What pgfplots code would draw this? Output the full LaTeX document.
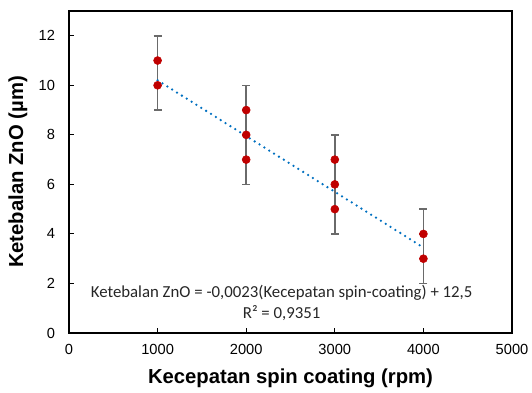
\documentclass[border=0pt]{standalone}
\usepackage{fontspec}
\setmainfont{Liberation Sans}
\newfontfamily\calibri{Carlito}
\usepackage{pgfplots}
\pgfplotsset{compat=1.18}
\definecolor{mred}{HTML}{C00000}
\definecolor{ebar}{HTML}{6A6A6A}
\definecolor{tline}{HTML}{0070C0}
\begin{document}
\begin{tikzpicture}
\begin{axis}[
  name=ax,
  scale only axis,
  width=332.25pt, height=241.5pt,
  xmin=0, xmax=5000, ymin=0, ymax=13,
  xtick={0,1000,...,5000}, ytick={0,2,...,12},
  tick align=inside,
  xtick pos=bottom, ytick pos=left,
  major tick length=4pt,
  axis line style={black, line width=1pt},
  tick style={black, line width=0.8pt},
  /pgf/number format/assume math mode=true,
  /pgf/number format/1000 sep={},
  tick label style={font=\fontsize{11}{13}\selectfont},
  yticklabel style={xshift=-7pt},
  xticklabel style={yshift=-5pt},
  xlabel={Kecepatan spin coating (rpm)},
  ylabel={Ketebalan ZnO (µm)},
  label style={font=\fontsize{15.2}{17}\selectfont\bfseries},
  xlabel style={at={(rel axis cs:0.5,-0.1398)}, anchor=center},
  ylabel style={at={(rel axis cs:-0.1151,0.5)}, anchor=center},
  clip=false,
]
% error bars
\addplot[draw=none, mark=none, forget plot,
  error bars/.cd, y dir=both, y explicit,
  error bar style={ebar, line width=1.1pt},
  error mark options={ebar, line width=1.1pt, mark size=3pt, rotate=90}]
  coordinates {
  (1000,10) +- (0,1)
  (1000,11) +- (0,1)
  (2000,9) +- (0,1)
  (2000,8) +- (0,1)
  (2000,7) +- (0,1)
  (3000,7) +- (0,1)
  (3000,6) +- (0,1)
  (3000,5) +- (0,1)
  (4000,4) +- (0,1)
  (4000,3) +- (0,1)
  };
% trend line
\addplot[tline, line width=1.9pt, line cap=round, dash pattern=on 0pt off 4.3pt]
  coordinates {(1000,10.2) (4000,3.45)};
% data points
\addplot[only marks, mark=*, mark size=3pt, mred, mark options={draw=mred, fill=mred}]
  coordinates {
  (1000,10) (1000,11)
  (2000,9) (2000,8) (2000,7)
  (3000,7) (3000,6) (3000,5)
  (4000,4) (4000,3)
  };
\node[align=center, font=\calibri\fontsize{12.6}{15.75}\selectfont, text=black!85]
  at (axis cs:2400,1.2) {Ketebalan ZnO = -0,0023(Kecepatan spin-coating) + 12,5\\R² = 0,9351};
\end{axis}
\pgfresetboundingbox
\path[use as bounding box] ([shift={(-51.75pt,-44.25pt)}]ax.south west) rectangle ([shift={(15pt,8.25pt)}]ax.north east);
\end{tikzpicture}
\end{document}
